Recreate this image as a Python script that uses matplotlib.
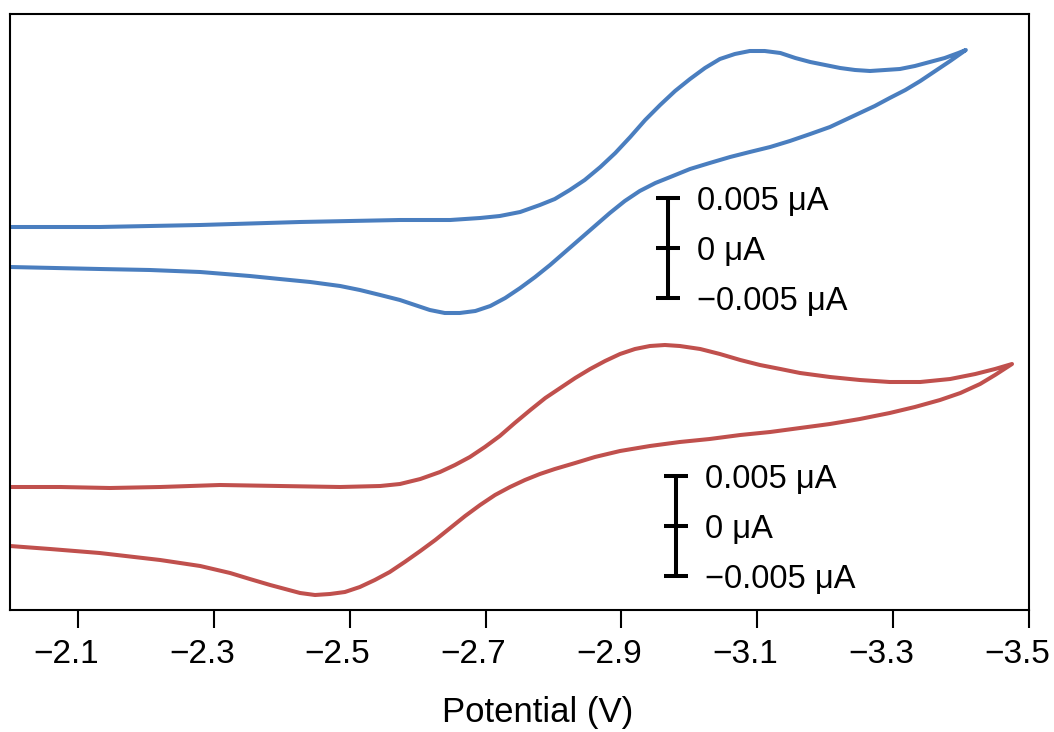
import numpy as np
import matplotlib.pyplot as plt
from matplotlib.transforms import ScaledTranslation

plt.rcParams["font.family"] = ["Liberation Sans", "DejaVu Sans"]

# cyclic voltammograms, potential (V) and current (uA); forward scan then return
blue_v = [-2.000, -2.132, -2.280, -2.427, -2.574, -2.648, -2.692, -2.721, -2.751,
          -2.780, -2.802, -2.824, -2.846, -2.869, -2.891, -2.913, -2.935, -2.957,
          -2.979, -3.001, -3.023, -3.045, -3.067, -3.089, -3.111, -3.134, -3.156,
          -3.178, -3.200, -3.222, -3.244, -3.266, -3.288, -3.310, -3.332, -3.354,
          -3.376, -3.396, -3.407,
          -3.384, -3.362, -3.340, -3.318, -3.295, -3.273, -3.251, -3.229, -3.207,
          -3.178, -3.148, -3.119, -3.089, -3.060, -3.030, -3.001, -2.972, -2.950,
          -2.927, -2.905, -2.883, -2.861, -2.839, -2.817, -2.795, -2.773, -2.751,
          -2.729, -2.707, -2.685, -2.662, -2.640, -2.618, -2.596, -2.574, -2.545,
          -2.515, -2.486, -2.442, -2.397, -2.353, -2.280, -2.206, -2.132, -2.000]
blue_i = [0.0021, 0.0021, 0.0023, 0.0026, 0.0028, 0.0028, 0.0030, 0.0032, 0.0036,
          0.0043, 0.0049, 0.0058, 0.0068, 0.0081, 0.0095, 0.0111, 0.0128, 0.0143,
          0.0157, 0.0169, 0.0180, 0.0189, 0.0194, 0.0197, 0.0197, 0.0195, 0.0190,
          0.0186, 0.0183, 0.0180, 0.0178, 0.0177, 0.0178, 0.0179, 0.0182, 0.0186,
          0.0190, 0.0195, 0.0198,
          0.0187, 0.0177, 0.0167, 0.0158, 0.0150, 0.0142, 0.0135, 0.0128, 0.0121,
          0.0114, 0.0107, 0.0101, 0.0096, 0.0091, 0.0085, 0.0079, 0.0071, 0.0065,
          0.0057, 0.0047, 0.0035, 0.0022, 0.0009, -0.0004, -0.0017, -0.0029,
          -0.0040, -0.0050, -0.0058, -0.0063, -0.0065, -0.0065, -0.0062, -0.0057,
          -0.0052, -0.0047, -0.0042, -0.0038, -0.0034, -0.0031, -0.0028, -0.0024,
          -0.0022, -0.0021, -0.0019]

red_v = [-2.000, -2.074, -2.147, -2.221, -2.309, -2.397, -2.486, -2.545, -2.574,
         -2.604, -2.633, -2.655, -2.677, -2.699, -2.721, -2.743, -2.766, -2.788,
         -2.810, -2.832, -2.854, -2.876, -2.898, -2.920, -2.942, -2.964, -2.986,
         -3.016, -3.045, -3.075, -3.104, -3.134, -3.163, -3.207, -3.251, -3.295,
         -3.340, -3.384, -3.421, -3.450, -3.475,
         -3.450, -3.428, -3.399, -3.369, -3.332, -3.295, -3.251, -3.207, -3.163,
         -3.119, -3.075, -3.030, -2.986, -2.942, -2.898, -2.861, -2.832, -2.802,
         -2.780, -2.758, -2.736, -2.714, -2.692, -2.670, -2.648, -2.626, -2.604,
         -2.581, -2.559, -2.537, -2.515, -2.493, -2.471, -2.449, -2.427, -2.405,
         -2.383, -2.353, -2.324, -2.280, -2.221, -2.132, -2.059, -2.000]
red_i = [0.0039, 0.0039, 0.0038, 0.0039, 0.0041, 0.0040, 0.0039, 0.0040, 0.0042,
         0.0047, 0.0054, 0.0061, 0.0069, 0.0079, 0.0090, 0.0103, 0.0116, 0.0128,
         0.0138, 0.0148, 0.0157, 0.0165, 0.0172, 0.0177, 0.0180, 0.0181, 0.0180,
         0.0177, 0.0172, 0.0166, 0.0161, 0.0157, 0.0153, 0.0149, 0.0146, 0.0144,
         0.0144, 0.0147, 0.0152, 0.0157, 0.0162,
         0.0151, 0.0142, 0.0133, 0.0126, 0.0119, 0.0113, 0.0107, 0.0102, 0.0098,
         0.0094, 0.0091, 0.0087, 0.0084, 0.0080, 0.0075, 0.0069, 0.0063, 0.0057,
         0.0052, 0.0046, 0.0039, 0.0031, 0.0021, 0.0010, -0.0002, -0.0014, -0.0025,
         -0.0036, -0.0046, -0.0054, -0.0061, -0.0066, -0.0068, -0.0069, -0.0067,
         -0.0063, -0.0059, -0.0053, -0.0047, -0.0040, -0.0034, -0.0027, -0.0023,
         -0.0020]

# vertical stacking of the two traces and scale bar positions
blue_offset = 0.0278
red_offset = 0.0
scale_bar = [-0.005, 0.0, 0.005]
scale_labels = ["\u22120.005 \u03bcA", "0 \u03bcA", "0.005 \u03bcA"]
blue_bar_x = -2.969
red_bar_x = -2.980

ticks = [-2.1, -2.3, -2.5, -2.7, -2.9, -3.1, -3.3, -3.5]
tick_labels = ["\u22122.1", "\u22122.3", "\u22122.5", "\u22122.7",
               "\u22122.9", "\u22123.1", "\u22123.3", "\u22123.5"]

blue_color = "#4A7EBF"
red_color = "#C0504D"

fig = plt.figure(figsize=(10.54, 7.32), dpi=100)
ax = fig.add_axes([10 / 1054, 1 - 610 / 732, 1019 / 1054, 596 / 732])

ax.plot(blue_v, np.array(blue_i) + blue_offset, color=blue_color, lw=2.9,
        solid_joinstyle="round", solid_capstyle="round")
ax.plot(red_v, np.array(red_i) + red_offset, color=red_color, lw=2.9,
        solid_joinstyle="round", solid_capstyle="round")

# scale bars
for bx, off in [(blue_bar_x, blue_offset), (red_bar_x, red_offset)]:
    ys = np.array(scale_bar) + off
    ax.plot([bx, bx], [ys[0], ys[-1]], color="black", lw=2.9, solid_capstyle="butt")
    ax.plot([bx] * 3, ys, ls="none", marker="_", ms=17, mew=2.9, color="black")
    for y, lab in zip(ys, scale_labels):
        ax.annotate(lab, (bx, y), xytext=(21, 0), textcoords="offset points",
                    ha="left", va="center_baseline", fontsize=23.5)

ax.set_xlim(-2.0, -3.5)
ax.set_ylim(-0.0084, 0.0512)
ax.set_xticks(ticks)
ax.set_xticklabels(tick_labels)
ax.set_yticks([])
ax.tick_params(axis="x", direction="out", length=13, width=1.5, pad=8,
               labelsize=24)
# labels sit a little left of their ticks
shift = ScaledTranslation(-12 / 100, 0, fig.dpi_scale_trans)
for lab in ax.get_xticklabels():
    lab.set_transform(lab.get_transform() + shift)
for sp in ax.spines.values():
    sp.set_linewidth(1.5)
ax.set_xlabel("Potential (V)", fontsize=25)
ax.xaxis.set_label_coords(0.518, -0.145)

fig.savefig("out.png", dpi=100)
